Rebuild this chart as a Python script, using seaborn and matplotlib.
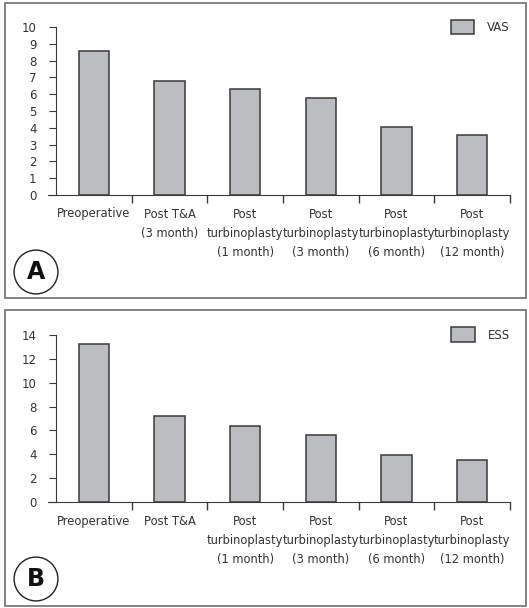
import numpy as np
import pandas as pd
import matplotlib
matplotlib.use("Agg")
import matplotlib.pyplot as plt
from matplotlib.patches import Rectangle, Patch
from matplotlib.ticker import FixedLocator
import seaborn as sns

sns.set_style("ticks")
plt.rcParams['font.family'] = ['DejaVu Sans']
plt.rcParams['text.color'] = '#333333'

stages_a = ['Preoperative', 'Post T&A\n(3 month)',
            'Post\nturbinoplasty\n(1 month)', 'Post\nturbinoplasty\n(3 month)',
            'Post\nturbinoplasty\n(6 month)', 'Post\nturbinoplasty\n(12 month)']
stages_b = ['Preoperative', 'Post T&A',
            'Post\nturbinoplasty\n(1 month)', 'Post\nturbinoplasty\n(3 month)',
            'Post\nturbinoplasty\n(6 month)', 'Post\nturbinoplasty\n(12 month)']
vas = [8.55, 6.8, 6.32, 5.77, 4.05, 3.57]
ess = [13.2, 7.24, 6.35, 5.6, 3.98, 3.53]

bar_col = '#bcbdc1'
edge_col = '#3a3a3a'

fig = plt.figure(figsize=(5.29, 6.08), dpi=100)

# panel frames
for y0, h in [(1 - 298/608, 295/608), (1 - 606/608, 296/608)]:
    fig.patches.append(Rectangle((5/529, y0), 521/529, h, transform=fig.transFigure,
                                 fill=False, edgecolor='#7a7a7a', lw=1.3))

ax_a = fig.add_axes([56/529, 1 - 195/608, 454/529, 168/608])
ax_b = fig.add_axes([56/529, 1 - 502.3/608, 454/529, 167.6/608])


def draw(ax, cats, vals, name, ymax, step):
    df = pd.DataFrame({'stage': cats, name: vals})
    sns.barplot(data=df, x='stage', y=name, color=bar_col, width=0.4,
                edgecolor=edge_col, linewidth=1.1, saturation=1, ax=ax)
    ax.set_xlim(-0.5, 5.5)
    ax.set_ylim(0, ymax)
    ax.set_yticks(np.arange(0, ymax + 0.1, step))
    ax.set_xlabel('')
    ax.set_ylabel('')
    sns.despine(ax=ax)
    ax.spines['left'].set_color(edge_col)
    ax.spines['bottom'].set_color(edge_col)
    ax.spines['bottom'].set_bounds(-0.6, 5.5)
    ax.tick_params(axis='y', length=5, color=edge_col, labelsize=8.5,
                   labelcolor='#333333', pad=9)
    ax.tick_params(axis='x', which='major', length=0, labelsize=8.3,
                   labelcolor='#333333', pad=9)
    ax.xaxis.set_minor_locator(FixedLocator(np.arange(0.5, 6, 1)))
    ax.tick_params(axis='x', which='minor', length=6, color=edge_col, width=1)
    for lab in ax.get_xticklabels():
        lab.set_linespacing(1.62)
        lab.set_verticalalignment('top')
    ax.legend(handles=[Patch(facecolor=bar_col, edgecolor=edge_col, lw=1.1, label=name)],
              loc='center right', frameon=False, fontsize=8.5, handlelength=2.0,
              handleheight=1.5, handletextpad=1.1, borderaxespad=0, borderpad=0,
              bbox_to_anchor=(1.0, 1.0))


draw(ax_a, stages_a, vas, 'VAS', 10, 1)
draw(ax_b, stages_b, ess, 'ESS', 14, 2)

for cy, letter in [(272, 'A'), (579, 'B')]:
    fig.text(36/529, 1 - cy/608, letter, fontsize=17, fontweight='bold', color='#111111',
             ha='center', va='center',
             bbox=dict(boxstyle='circle,pad=0.42', facecolor='white', edgecolor='#222222', lw=1))

fig.savefig('out.png', dpi=100)
